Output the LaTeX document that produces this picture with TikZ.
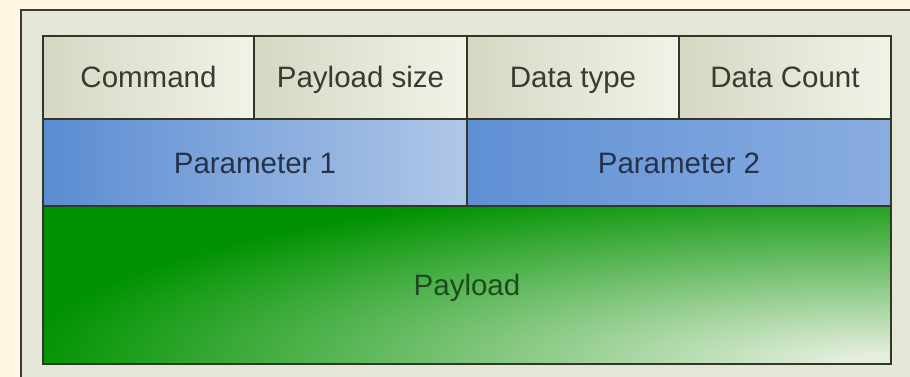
\documentclass[tikz,border=0pt]{standalone}
\usepackage{fontspec}
\setmainfont{Liberation Sans}
\definecolor{cream}{HTML}{FFF6E3}
\definecolor{panel}{HTML}{E6E6D8}
\definecolor{panelline}{HTML}{3A3A36}
\definecolor{cellline}{HTML}{303828}
\definecolor{beigeA}{HTML}{D6D7C2}
\definecolor{beigeB}{HTML}{F2F3E8}
\definecolor{blueA}{HTML}{5A8CD2}
\definecolor{blueB}{HTML}{B0C7E8}
\definecolor{blueC}{HTML}{5F90D5}
\definecolor{blueD}{HTML}{8AADE0}
\definecolor{txt}{HTML}{3A3A30}
\definecolor{bluetxt}{HTML}{26324A}
\definecolor{greentxt}{HTML}{1E4A1E}
% light elliptical glow centred on the bottom-right corner of the payload
\pgfdeclarefunctionalshading{greenfn}{\pgfpointorigin}{\pgfpoint{100bp}{100bp}}{}{
  0.018057 mul 0.45143 sub dup mul
  exch -0.020683 mul 1.5512 add dup mul
  add sqrt
  -1.0 mul 1.06 add
  dup 0 lt {pop 0} if dup 1 gt {pop 1} if
  dup 0.894 mul exch dup 0.36 mul 0.573 add exch 0.863 mul
}
\tikzset{
  cell/.style={draw=cellline, line width=2pt, anchor=north west, inner sep=0pt,
    text=txt, font=\fontsize{29.5}{32}\selectfont, text height=21pt, text depth=0pt},
  headcell/.style={cell, left color=beigeA, right color=beigeB, minimum height=83pt},
  parcell/.style={cell, text=bluetxt, minimum width=424pt, minimum height=87pt},
}
\begin{document}
\begin{tikzpicture}[x=1pt,y=-1pt]
\useasboundingbox (0,0) rectangle (910,377);
\fill[cream] (0,0) rectangle (910,377);
\fill[panel] (20,9) rectangle (910,377);
\draw[panelline, line width=2.5pt] (21,377) -- (21,10) -- (910,10);
% top row
\node[headcell, minimum width=211pt] (cmd) at (42,35) {Command};
\node[headcell, minimum width=213pt] (psize) at (253,35) {Payload size};
\node[headcell, minimum width=212pt] (dtype) at (466,35) {Data type};
\node[headcell, minimum width=212pt] (dcount) at (678,35) {Data Count};
% parameters
\node[parcell, left color=blueA, right color=blueB] (p1) at (42,118) {Parameter 1};
\node[parcell, left color=blueC, right color=blueD] (p2) at (466,118) {Parameter 2};
% payload
\node[cell, shading=greenfn, text=greentxt, minimum width=848pt, minimum height=158pt] (payload) at (42,205) {Payload};
\end{tikzpicture}
\end{document}
